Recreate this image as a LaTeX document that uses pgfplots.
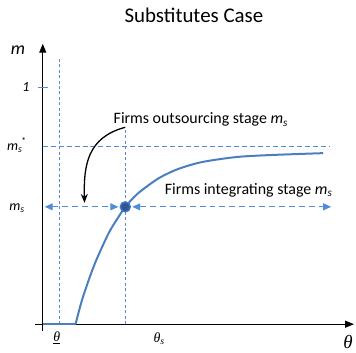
\documentclass[border=0pt]{standalone}
\usepackage{fontspec}
\setmainfont{Carlito}
\newfontfamily\serifit{Liberation Serif}
\usepackage{pgfplots}
\pgfplotsset{compat=1.18}
\usetikzlibrary{arrows.meta}
\definecolor{curveblue}{RGB}{74,126,193}
\definecolor{dashblue}{RGB}{80,140,215}
\definecolor{dotfill}{RGB}{47,85,151}
\definecolor{dotdraw}{RGB}{68,114,196}
\begin{document}
\begin{tikzpicture}
\begin{axis}[scale only axis, width=356pt, height=351pt,
  xmin=-43, xmax=313, ymin=-25, ymax=326, hide axis, clip=false]
\path (rel axis cs:0,0) rectangle (rel axis cs:1,1);
% guide lines
\addplot[dashblue, line width=1.1pt, dash pattern=on 3pt off 2.5pt] coordinates {(17,0) (17,268)};
\addplot[dashblue, line width=1.1pt, dash pattern=on 3pt off 2.5pt] coordinates {(83,0) (83,196)};
\addplot[dashblue, line width=1.1pt, dash pattern=on 5pt off 3pt] coordinates {(0,179) (289,179)};
\addplot[dashblue, line width=1.2pt, dash pattern=on 6pt off 4pt, {Triangle[length=8pt,width=7pt]}-{Triangle[length=8pt,width=7pt]}] coordinates {(2,118) (76,118)};
\addplot[dashblue, line width=1.2pt, dash pattern=on 6pt off 4pt, {Triangle[length=8pt,width=7pt]}-{Triangle[length=8pt,width=7pt]}] coordinates {(90,118) (290,118)};
% axes
\draw[line width=1.3pt, -{Triangle[length=9pt,width=7pt]}] (axis cs:0,-7) -- (axis cs:0,282);
\draw[line width=1.3pt, -{Triangle[length=9pt,width=7pt]}] (axis cs:-8,0) -- (axis cs:313,0);
\addplot[dashblue, line width=1pt] coordinates {(-5,238) (5,238)};
% curve
\addplot[curveblue, line width=2pt] coordinates {(0,0) (33,0)};
\addplot[curveblue, line width=2pt, smooth] coordinates {
(33,0) (40,26) (52,60) (66,91) (75,106) (83,118) (92,128) (100,135) (117,147) (136,156) (160,163) (194,168) (227,170) (282,172)};
% point
\addplot[only marks, mark=*, mark size=5pt, mark options={fill=dotfill, draw=dotdraw, line width=1.5pt}] coordinates {(83,118)};
% curved arrow
\draw[line width=1.3pt, -{Stealth[length=9pt,width=7pt]}] (axis cs:83,198) .. controls (axis cs:45,188) and (axis cs:41,160) .. (axis cs:42,122);
% labels
\node[font=\fontsize{21}{24}\selectfont] at (axis cs:152,311) {Substitutes Case};
\node[font=\fontsize{16}{19}\selectfont] at (axis cs:159,206) {Firms outsourcing stage \textit{m}\textsubscript{\textit{s}}};
\node[font=\fontsize{16}{19}\selectfont] at (axis cs:207,135) {Firms integrating stage \textit{m}\textsubscript{\textit{s}}};
\node[font=\fontsize{18}{21}\selectfont\itshape] at (axis cs:-25,276) {m};
\node[font=\fontsize{14}{17}\selectfont\itshape] at (axis cs:-17,238) {1};
\node[font=\fontsize{14}{17}\selectfont] at (axis cs:-26,180) {\textit{m}\textsubscript{\textit{s}}\kern-1pt\textsuperscript{*}};
\node[font=\fontsize{14}{17}\selectfont] at (axis cs:-26,117) {\textit{m}\textsubscript{\textit{s}}};
\node[font=\serifit\itshape\fontsize{14}{16}\selectfont] at (axis cs:14,-14) {\underline{θ}};
\node[font=\serifit\itshape\fontsize{14}{16}\selectfont] at (axis cs:117,-15) {θ\textsubscript{s}};
\node[font=\serifit\itshape\fontsize{19}{21}\selectfont] at (axis cs:307,-18) {θ};
\end{axis}
\end{tikzpicture}
\end{document}
